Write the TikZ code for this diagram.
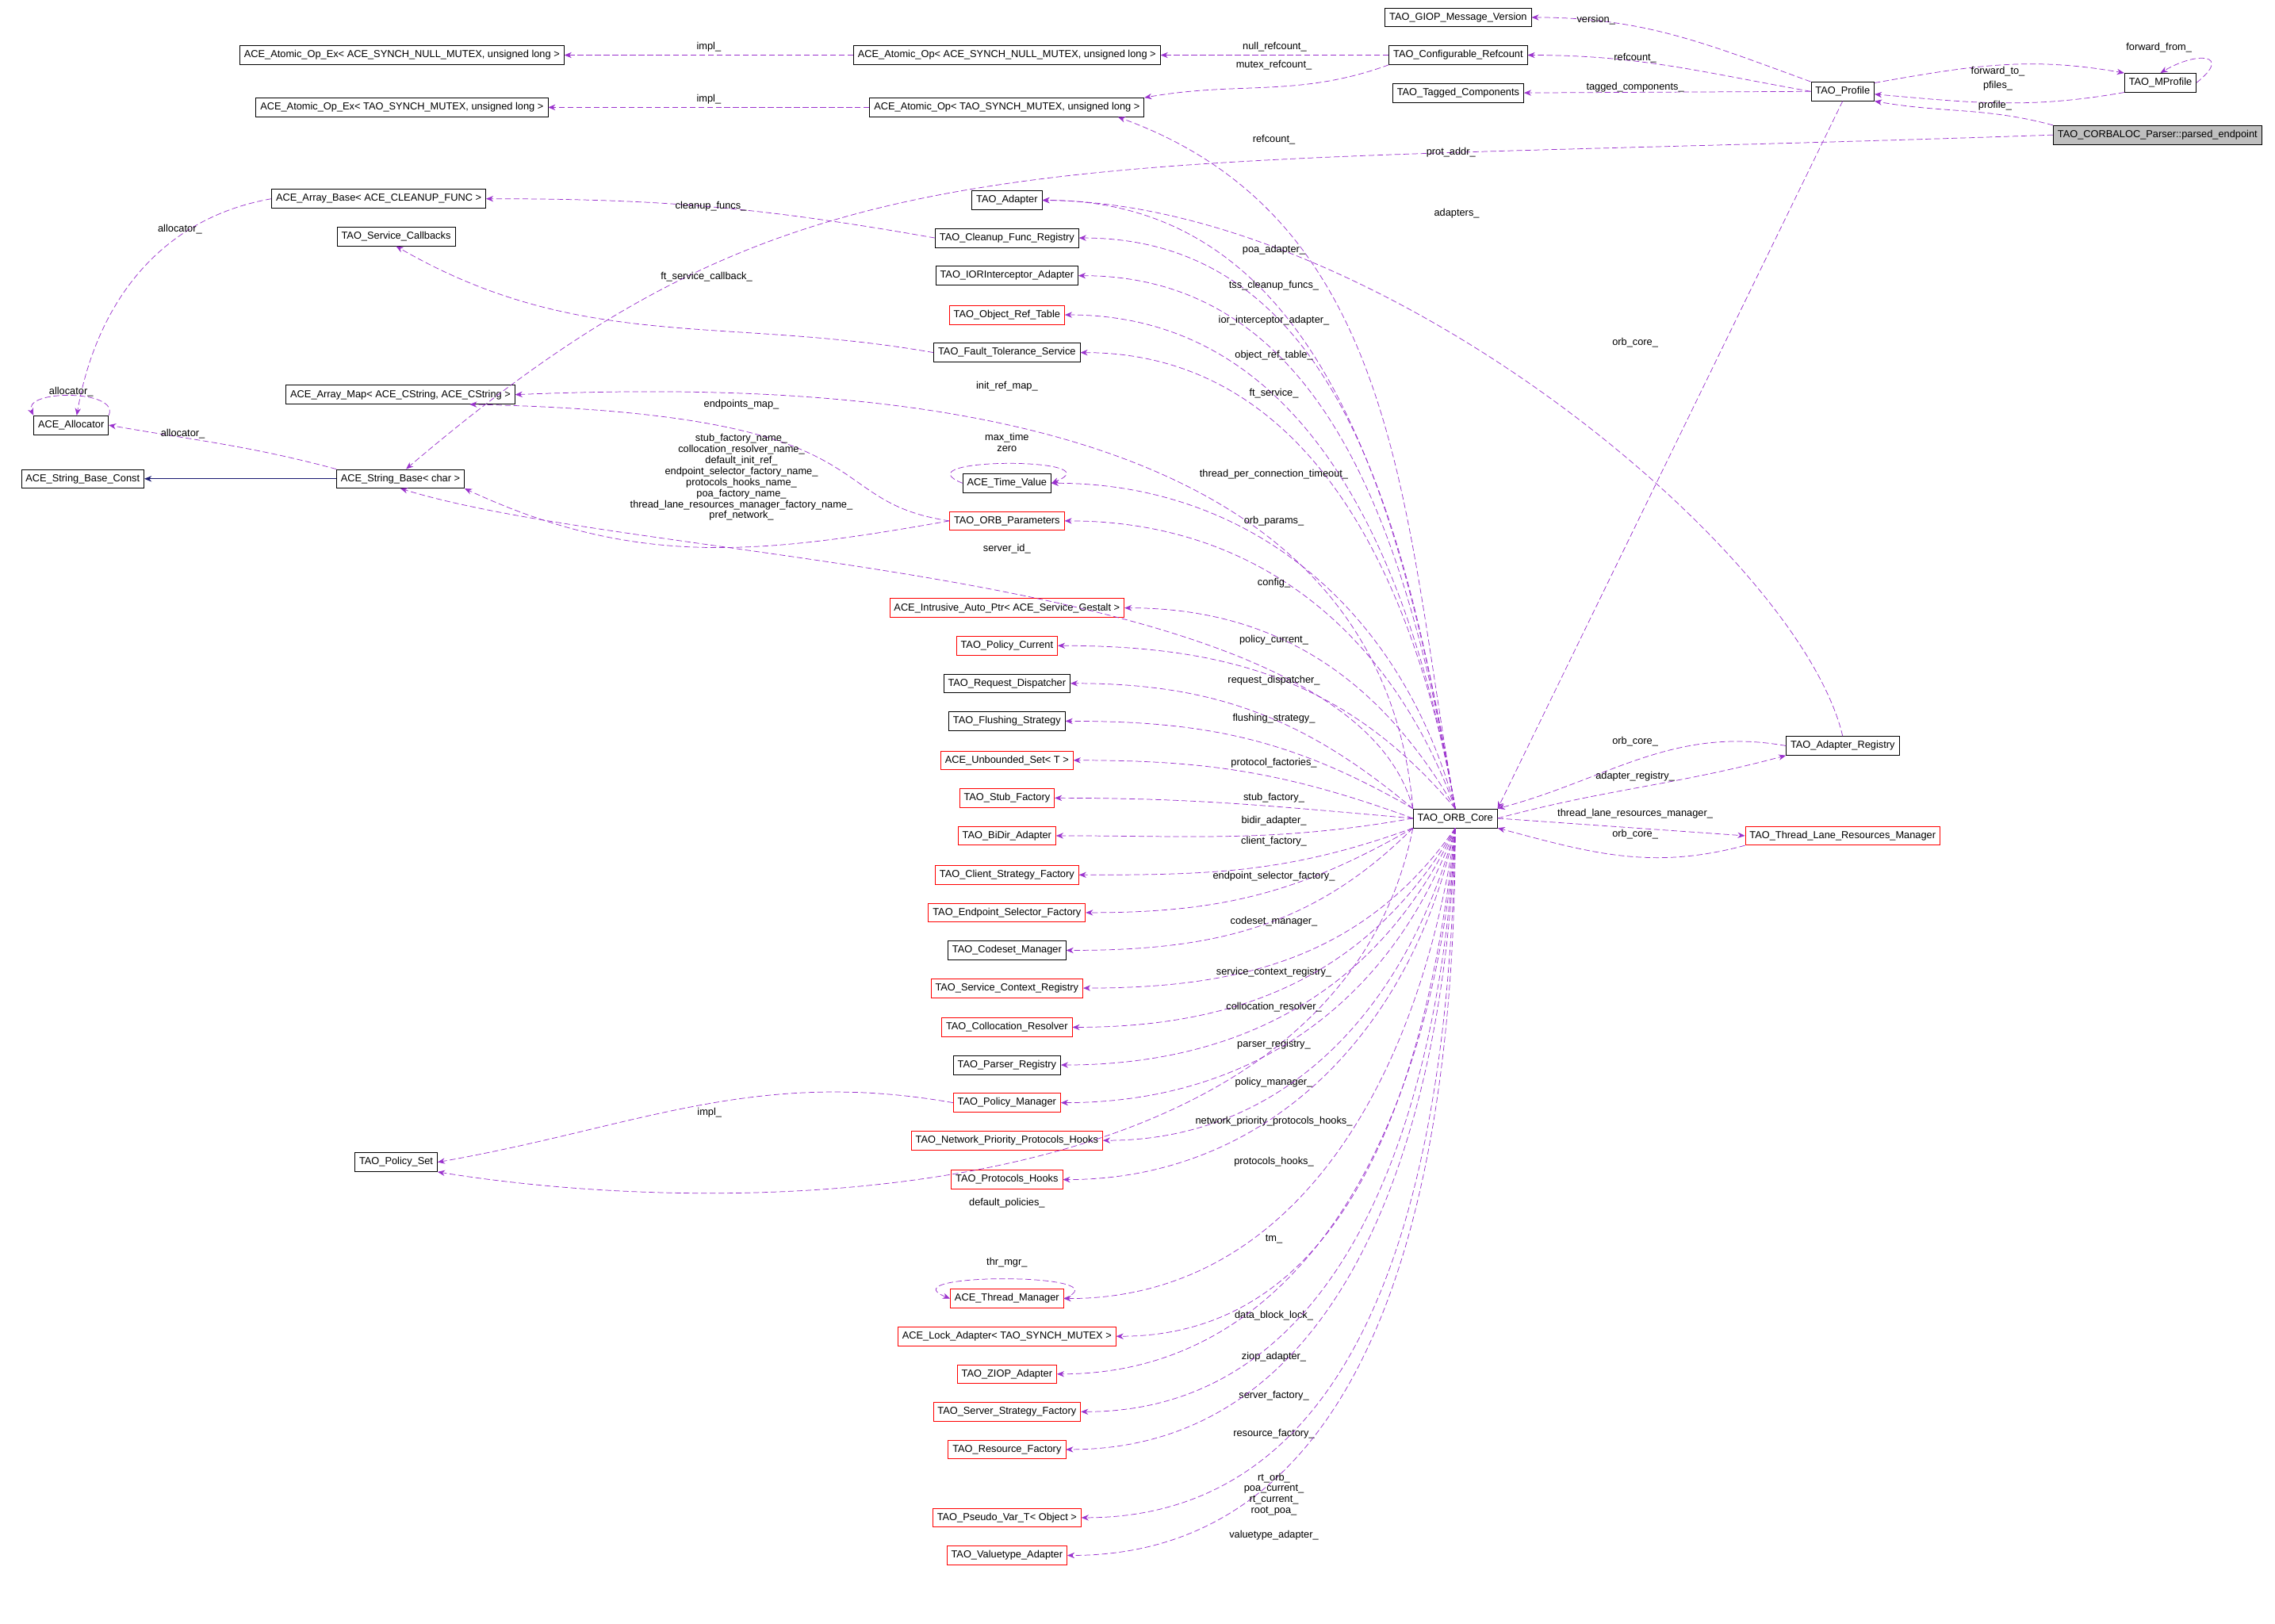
\documentclass[tikz,border=0pt]{standalone}
\usepackage{fontspec}
\setmainfont{Liberation Sans}
\usetikzlibrary{arrows.meta,positioning}
\definecolor{EdgeColor}{RGB}{154,50,205}
\definecolor{InheritColor}{RGB}{25,25,112}
\tikzset{
  cls/.style={draw, rectangle, inner xsep=3pt, inner ysep=0pt, minimum height=13pt, font=\fontsize{7}{8}\selectfont},
  badcls/.style={cls, draw=red},
  member/.style={draw=EdgeColor, dash pattern=on 4pt off 2pt, -{Stealth[length=5pt,width=4pt,fill=EdgeColor]}},
  inherit/.style={draw=InheritColor, -{Stealth[length=5pt,width=4pt,fill=InheritColor]}},
  lbl/.style={font=\fontsize{7}{7.6}\selectfont, inner sep=1pt, align=center}
}
\begin{document}
\begin{tikzpicture}[x=1pt,y=1pt]
\useasboundingbox (0,0) rectangle (1568,-1119);
% top classes
\node[cls] (giop) at (1005,-12) {TAO\_GIOP\_Message\_Version};
\node[cls] (cfgref) at (1005,-38) {TAO\_Configurable\_Refcount};
\node[cls] (tagged) at (1005,-64) {TAO\_Tagged\_Components};
\node[cls] (profile) at (1270,-63) {TAO\_Profile};
\node[cls] (mprof) at (1489,-57) {TAO\_MProfile};
\node[cls, fill=black!25] (endpt) at (1487,-93) {TAO\_CORBALOC\_Parser::parsed\_endpoint};
\node[cls] (opexnull) at (277,-38) {ACE\_Atomic\_Op\_Ex< ACE\_SYNCH\_NULL\_MUTEX, unsigned long >};
\node[cls] (opnull) at (694,-38) {ACE\_Atomic\_Op< ACE\_SYNCH\_NULL\_MUTEX, unsigned long >};
\node[cls] (opextao) at (277,-74) {ACE\_Atomic\_Op\_Ex< TAO\_SYNCH\_MUTEX, unsigned long >};
\node[cls] (optao) at (694,-74) {ACE\_Atomic\_Op< TAO\_SYNCH\_MUTEX, unsigned long >};
% left side
\node[cls] (arraybase) at (261,-137) {ACE\_Array\_Base< ACE\_CLEANUP\_FUNC >};
\node[cls] (svccb) at (273,-163) {TAO\_Service\_Callbacks};
\node[cls] (arraymap) at (276,-272) {ACE\_Array\_Map< ACE\_CString, ACE\_CString >};
\node[cls] (alloc) at (49,-293) {ACE\_Allocator};
\node[cls] (strconst) at (57,-330) {ACE\_String\_Base\_Const};
\node[cls] (strbase) at (276,-330) {ACE\_String\_Base< char >};
\node[cls] (polset) at (273,-801) {TAO\_Policy\_Set};
% middle column
\node[cls] (adapter) at (694,-138) {TAO\_Adapter};
\node[cls] (cleanup) at (694,-164) {TAO\_Cleanup\_Func\_Registry};
\node[cls] (ior) at (694,-190) {TAO\_IORInterceptor\_Adapter};
\node[badcls] (objref) at (694,-217) {TAO\_Object\_Ref\_Table};
\node[cls] (ftsvc) at (694,-243) {TAO\_Fault\_Tolerance\_Service};
\node[cls] (timeval) at (694,-333) {ACE\_Time\_Value};
\node[badcls] (orbparams) at (694,-359) {TAO\_ORB\_Parameters};
\node[badcls] (intrusive) at (694,-419) {ACE\_Intrusive\_Auto\_Ptr< ACE\_Service\_Gestalt >};
\node[badcls] (polcur) at (694,-445) {TAO\_Policy\_Current};
\node[cls] (reqdisp) at (694,-471) {TAO\_Request\_Dispatcher};
\node[cls] (flush) at (694,-497) {TAO\_Flushing\_Strategy};
\node[badcls] (unbset) at (694,-524) {ACE\_Unbounded\_Set< T >};
\node[badcls] (stubf) at (694,-550) {TAO\_Stub\_Factory};
\node[badcls] (bidir) at (694,-576) {TAO\_BiDir\_Adapter};
\node[badcls] (client) at (694,-603) {TAO\_Client\_Strategy\_Factory};
\node[badcls] (endsel) at (694,-629) {TAO\_Endpoint\_Selector\_Factory};
\node[cls] (codeset) at (694,-655) {TAO\_Codeset\_Manager};
\node[badcls] (svcctx) at (694,-681) {TAO\_Service\_Context\_Registry};
\node[badcls] (colloc) at (694,-708) {TAO\_Collocation\_Resolver};
\node[cls] (parser) at (694,-734) {TAO\_Parser\_Registry};
\node[badcls] (polmgr) at (694,-760) {TAO\_Policy\_Manager};
\node[badcls] (netprio) at (694,-786) {TAO\_Network\_Priority\_Protocols\_Hooks};
\node[badcls] (prothooks) at (694,-813) {TAO\_Protocols\_Hooks};
\node[badcls] (thrmgr) at (694,-895) {ACE\_Thread\_Manager};
\node[badcls] (lockad) at (694,-921) {ACE\_Lock\_Adapter< TAO\_SYNCH\_MUTEX >};
\node[badcls] (ziop) at (694,-947) {TAO\_ZIOP\_Adapter};
\node[badcls] (server) at (694,-973) {TAO\_Server\_Strategy\_Factory};
\node[badcls] (resource) at (694,-999) {TAO\_Resource\_Factory};
\node[badcls] (pseudo) at (694,-1046) {TAO\_Pseudo\_Var\_T< Object >};
\node[badcls] (valuetype) at (694,-1072) {TAO\_Valuetype\_Adapter};
% right side
\node[cls] (orb) at (1003,-564) {TAO\_ORB\_Core};
\node[cls] (adreg) at (1270,-514) {TAO\_Adapter\_Registry};
\node[badcls] (tlrm) at (1270,-576) {TAO\_Thread\_Lane\_Resources\_Manager};

% top edges
\draw[member] (opnull) -- (opexnull) node[lbl, midway, above=1pt] {impl\_};
\draw[member] (optao) -- (opextao) node[lbl, midway, above=1pt] {impl\_};
\draw[member] (cfgref) -- (opnull) node[lbl, midway, above=1pt] {null\_refcount\_};
\draw[member] (cfgref.south west) to[out=-160,in=10] (optao.north east);
\node[lbl] at (878,-45) {mutex\_refcount\_};
\draw[member] (orb.north) to[out=100,in=-20] (optao.-5.7);
\node[lbl] at (878,-96) {refcount\_};
\draw[member] (profile.north west) to[out=160,in=0] (giop.east);
\node[lbl] at (1100,-14) {version\_};
\draw[member] (profile.west) to[out=170,in=0] (cfgref.east);
\node[lbl] at (1127,-40) {refcount\_};
\draw[member] (profile.west) -- (tagged.east);
\node[lbl] at (1127,-60) {tagged\_components\_};
\draw[member] (profile.15) to[out=10,in=170] (mprof.165);
\node[lbl] at (1377,-49) {forward\_to\_};
\draw[member] (mprof.195) to[out=190,in=-5] (profile.-5);
\node[lbl] at (1377,-59) {pfiles\_};
\draw[member] (mprof.east) .. controls +(25,20) and +(25,15) .. (mprof.north);
\node[lbl] at (1488,-33) {forward\_from\_};
\draw[member] (endpt.north west) to[out=165,in=-10] (profile.south east);
\node[lbl] at (1375,-73) {profile\_};
\draw[member] (endpt.west) .. controls (700,-118) and (560,-85) .. (strbase.60);
\node[lbl] at (1000,-105) {prot\_addr\_};
\draw[member] (profile.south) -- (orb.north east);
\node[lbl] at (1127,-236) {orb\_core\_};
\draw[member] (adreg.north) .. controls (1240,-380) and (950,-140) .. (adapter.east);
\node[lbl] at (1004,-147) {adapters\_};
\draw[member] (adreg.west) to[out=170,in=15] (orb.north east);
\node[lbl] at (1127,-511) {orb\_core\_};
\draw[member] (orb.east) to[out=15,in=195] (adreg.south west);
\node[lbl] at (1127,-535) {adapter\_registry\_};
\draw[member] (orb.east) -- (tlrm.west);
\node[lbl] at (1127,-561) {thread\_lane\_resources\_manager\_};
\draw[member] (tlrm.south west) to[out=195,in=-15] (orb.south east);
\node[lbl] at (1127,-575) {orb\_core\_};

% left edges
\draw[member] (cleanup.west) to[out=170,in=0] (arraybase.east);
\node[lbl] at (490,-142) {cleanup\_funcs\_};
\draw[member] (arraybase.west) to[out=190,in=80] (alloc.60);
\node[lbl] at (124,-158) {allocator\_};
\draw[member] (alloc.north east) .. controls +(8,18) and +(-8,18) .. (alloc.north west);
\node[lbl] at (49,-270) {allocator\_};
\draw[member] (strbase.north west) to[out=165,in=-10] (alloc.east);
\node[lbl] at (126,-299) {allocator\_};
\draw[inherit] (strbase.west) -- (strconst.east);
\draw[member] (ftsvc.west) to[out=170,in=-30] (svccb.south);
\node[lbl] at (487,-191) {ft\_service\_callback\_};
\draw[member] (orbparams.west) .. controls (560,-345) and (620,-285) .. (arraymap.-8);
\node[lbl] at (511,-279) {endpoints\_map\_};
\draw[member] (orbparams.west) to[out=190,in=-25] (strbase.south east);
\node[lbl] at (511,-329) {stub\_factory\_name\_\\collocation\_resolver\_name\_\\default\_init\_ref\_\\endpoint\_selector\_factory\_name\_\\protocols\_hooks\_name\_\\poa\_factory\_name\_\\thread\_lane\_resources\_manager\_factory\_name\_\\pref\_network\_};
\draw[member] (orb.north west) .. controls (950,-280) and (600,-262) .. (arraymap.east);
\node[lbl] at (694,-266) {init\_ref\_map\_};
\draw[member] (orb.north west) .. controls (930,-390) and (450,-390) .. (strbase.south);
\node[lbl] at (694,-378) {server\_id\_};
\draw[member] (timeval.west) .. controls +(-45,18) and +(45,18) .. (timeval.east);
\node[lbl] at (694,-305) {max\_time\\zero};
\draw[member] (thrmgr.east) .. controls +(45,18) and +(-45,18) .. (thrmgr.west);
\node[lbl] at (694,-870) {thr\_mgr\_};
\draw[member] (polmgr.west) to[out=170,in=10] (polset.east);
\node[lbl] at (489,-767) {impl\_};
\draw[member] (orb.south west) .. controls (920,-840) and (500,-840) .. (polset.south east);
\node[lbl] at (694,-829) {default\_policies\_};

% edges from the ORB core
\foreach \dst/\src/\ang/\ly/\txt in {
  adapter/north/100/172/poa\_adapter\_,
  cleanup/north/100/197/tss\_cleanup\_funcs\_,
  ior/north/100/221/ior\_interceptor\_adapter\_,
  objref/north/100/245/object\_ref\_table\_,
  ftsvc/north/100/271/ft\_service\_,
  timeval/north/105/327/thread\_per\_connection\_timeout\_,
  orbparams/north/110/359/orb\_params\_,
  intrusive/north/120/402/config\_,
  polcur/north/130/441/policy\_current\_,
  reqdisp/north west/140/469/request\_dispatcher\_,
  flush/north west/150/495/flushing\_strategy\_,
  unbset/west/160/526/protocol\_factories\_,
  stubf/west/175/550/stub\_factory\_,
  bidir/west/190/566/bidir\_adapter\_,
  client/south west/200/580/client\_factory\_,
  endsel/south west/210/604/endpoint\_selector\_factory\_,
  codeset/south west/225/635/codeset\_manager\_,
  svcctx/south/235/670/service\_context\_registry\_,
  colloc/south/240/694/collocation\_resolver\_,
  parser/south/245/720/parser\_registry\_,
  polmgr/south/250/746/policy\_manager\_,
  netprio/south/255/773/network\_priority\_protocols\_hooks\_,
  prothooks/south/258/801/protocols\_hooks\_,
  thrmgr/south/262/854/tm\_,
  lockad/south/264/907/data\_block\_lock\_,
  ziop/south/266/935/ziop\_adapter\_,
  server/south/267/962/server\_factory\_,
  resource/south/268/988/resource\_factory\_,
  valuetype/south/270/1058/valuetype\_adapter\_}
{
  \draw[member] (orb.\src) to[out=\ang,in=0] (\dst.east);
  \node[lbl] at (878,-\ly) {\txt};
}
\draw[member] (orb.south) to[out=269,in=0] (pseudo.east);
\node[lbl] at (878,-1030) {rt\_orb\_\\poa\_current\_\\rt\_current\_\\root\_poa\_};
\end{tikzpicture}
\end{document}
